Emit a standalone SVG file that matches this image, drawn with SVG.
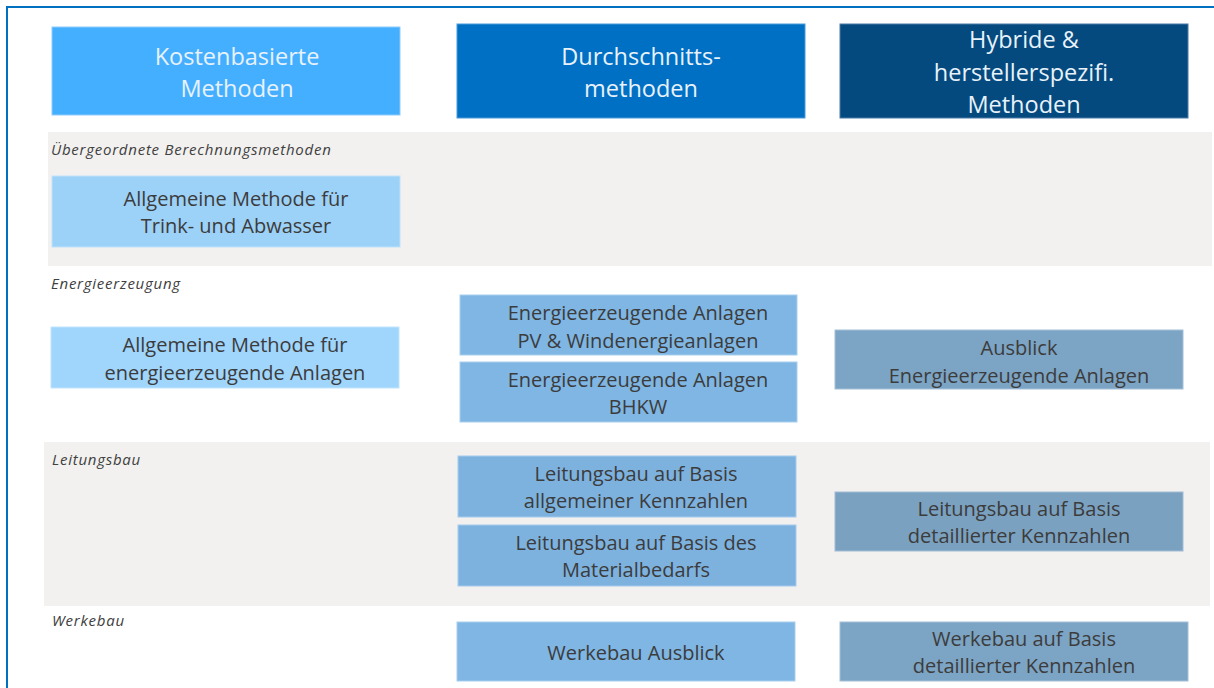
<svg xmlns="http://www.w3.org/2000/svg" width="1214" height="688" viewBox="0 0 1214 688">
<style>
.hd{font-family:"Open Sans",Lato,"Liberation Sans",sans-serif;font-size:23.5px;fill:#E8F2FB;text-anchor:middle}
.bx{font-family:"Open Sans",Lato,"Liberation Sans",sans-serif;font-size:20px;fill:#3C3C3C;text-anchor:middle}
.lb{font-family:"Open Sans",Lato,"Liberation Sans",sans-serif;font-size:15px;font-style:italic;letter-spacing:0.75px;fill:#404040}
.band{fill:#F2F1EF}
</style>
<rect x="0" y="0" width="1214" height="688" fill="#FFFFFF"/>
<g id="frame">
<line x1="7" y1="7" x2="1214" y2="7" stroke="#0070C0" stroke-width="2"/>
<line x1="7" y1="6" x2="7" y2="688" stroke="#0070C0" stroke-width="2"/>
</g>
<g id="bands">
<rect class="band" x="48" y="132" width="1164" height="134"/>
<rect class="band" x="44" y="442" width="1166" height="164"/>
</g>
<g id="labels">
<text class="lb" x="51" y="155">Übergeordnete Berechnungsmethoden</text>
<text class="lb" x="51" y="289">Energieerzeugung</text>
<text class="lb" x="52" y="465">Leitungsbau</text>
<text class="lb" x="52" y="626">Werkebau</text>
</g>
<g id="h1"><rect x="52" y="27" width="348" height="88" fill="#45AFFF" stroke="#8FCBFA" stroke-width="1"/>
<text class="hd" x="237" y="65">Kostenbasierte</text><text class="hd" x="237" y="97">Methoden</text></g>
<g id="h2"><rect x="457" y="24" width="348" height="94" fill="#0070C4" stroke="#4A9ADA" stroke-width="1"/>
<text class="hd" x="641" y="65">Durchschnitts-</text><text class="hd" x="641" y="97">methoden</text></g>
<g id="h3"><rect x="840" y="24" width="348" height="94" fill="#044A7E" stroke="#4A7BA8" stroke-width="1"/>
<text class="hd" x="1024" y="48">Hybride &amp;</text><text class="hd" x="1024" y="81">herstellerspezifi.</text><text class="hd" x="1024" y="113">Methoden</text></g>
<g id="n1"><rect x="52" y="176" width="348" height="71" fill="#9DD2F8" stroke="#BFE2FB" stroke-width="1"/>
<text class="bx" x="236" y="206">Allgemeine Methode für</text><text class="bx" x="236" y="233">Trink- und Abwasser</text></g>
<g id="n2"><rect x="51" y="327" width="348" height="61" fill="#A0D5FC" stroke="#C2E5FD" stroke-width="1"/>
<text class="bx" x="235" y="352">Allgemeine Methode für</text><text class="bx" x="235" y="380">energieerzeugende Anlagen</text></g>
<g id="n3"><rect x="460" y="295" width="337" height="60" fill="#7FB6E3" stroke="#A8CFEE" stroke-width="1"/>
<text class="bx" x="638" y="320">Energieerzeugende Anlagen</text><text class="bx" x="638" y="348">PV &amp; Windenergieanlagen</text></g>
<g id="n4"><rect x="460" y="362" width="337" height="60" fill="#7FB6E3" stroke="#A8CFEE" stroke-width="1"/>
<text class="bx" x="638" y="387">Energieerzeugende Anlagen</text><text class="bx" x="638" y="414">BHKW</text></g>
<g id="n5"><rect x="835" y="330" width="348" height="59" fill="#7CA4C4" stroke="#A4C0D8" stroke-width="1"/>
<text class="bx" x="1019" y="355">Ausblick</text><text class="bx" x="1019" y="383">Energieerzeugende Anlagen</text></g>
<g id="n6"><rect x="458" y="456" width="338" height="61" fill="#7DB2DF" stroke="#A6CBEC" stroke-width="1"/>
<text class="bx" x="636" y="481">Leitungsbau auf Basis</text><text class="bx" x="636" y="508">allgemeiner Kennzahlen</text></g>
<g id="n7"><rect x="458" y="525" width="338" height="61" fill="#7DB2DF" stroke="#A6CBEC" stroke-width="1"/>
<text class="bx" x="636" y="550">Leitungsbau auf Basis des</text><text class="bx" x="636" y="577">Materialbedarfs</text></g>
<g id="n8"><rect x="835" y="492" width="348" height="59" fill="#7BA1C0" stroke="#A2BDD5" stroke-width="1"/>
<text class="bx" x="1019" y="516">Leitungsbau auf Basis</text><text class="bx" x="1019" y="543">detaillierter Kennzahlen</text></g>
<g id="n9"><rect x="457" y="622" width="338" height="59" fill="#7FB6E3" stroke="#A8CFEE" stroke-width="1"/>
<text class="bx" x="636" y="660">Werkebau Ausblick</text></g>
<g id="n10"><rect x="840" y="622" width="348" height="59" fill="#7CA4C4" stroke="#A4C0D8" stroke-width="1"/>
<text class="bx" x="1024" y="646">Werkebau auf Basis</text><text class="bx" x="1024" y="673">detaillierter Kennzahlen</text></g>
<g id="connectors"></g>
</svg>
